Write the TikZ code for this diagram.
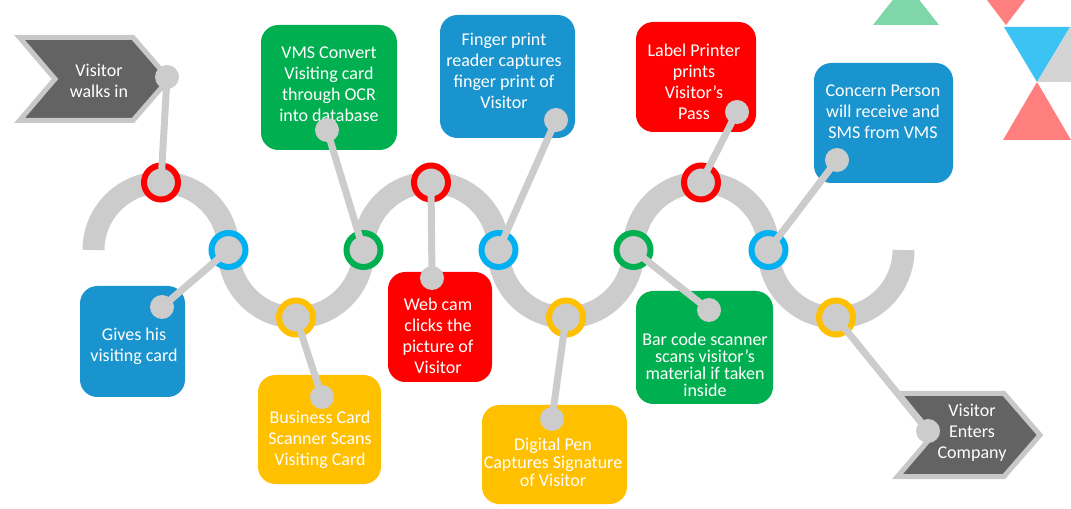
\documentclass[tikz,border=0pt]{standalone}
\usepackage{fontspec}
\setmainfont{Carlito}
\usepackage{tikz}
\usetikzlibrary{positioning}
\definecolor{mTrack}{HTML}{CCCCCC}
\definecolor{mRed}{HTML}{FF0000}
\definecolor{mBlue}{HTML}{00B0F0}
\definecolor{mBox}{HTML}{1A94CE}
\definecolor{mGreen}{HTML}{00B050}
\definecolor{mYellow}{HTML}{FFC000}
\definecolor{mDark}{HTML}{636363}
\definecolor{mEdge}{HTML}{C8C8C8}
\definecolor{mMint}{HTML}{7FD7A9}
\definecolor{mSalmon}{HTML}{FF7F7F}
\definecolor{mSky}{HTML}{3BC3F3}
\definecolor{mLight}{HTML}{D4D4D4}

\begin{document}
\begin{tikzpicture}[x=0.75pt, y=-0.75pt,
    ring/.style={circle, draw=#1, line width=4.5pt, fill=mTrack, minimum size=25.5pt, inner sep=0pt},
    pin/.style={circle, fill=mTrack, minimum size=18pt, inner sep=0pt},
    stem/.style={mTrack, line width=5.25pt},
    card/.style={fill=#1, rounded corners=13pt},
    chevron/.style={fill=mDark, draw=mEdge, line width=3.75pt, line join=miter},
    txt/.style={text=white, align=center, inner sep=0pt, font=\fontsize{13.5}{15.75}\selectfont}]
    \clip (0,0) rectangle (1071,509);
    % corner triangles
    \fill[mMint] (873,25) -- (939,25) -- (906,-17) -- cycle;
    \fill[mSalmon] (974,-17) -- (1038,-17) -- (1006,25) -- cycle;
    \fill[mSky] (1004,27) -- (1070,27) -- (1037,82) -- cycle;
    \fill[mLight] (1037,82) -- (1072,24) -- (1072,82) -- cycle;
    \fill[mSalmon] (1037,82) -- (1003,140) -- (1071,140) -- cycle;
    % wave
    \draw[mTrack, line width=16.5pt] (93.5,250) arc (180:360:67.5) arc (180:0:67.5)
      arc (180:360:67.5) arc (180:0:67.5) arc (180:360:67.5) arc (180:0:67.5);
    % cards
    \fill[card=mBox] (80,286) rectangle (185,397);
    \fill[card=mYellow] (258,375) rectangle (381,484);
    \fill[card=mGreen] (261,25) rectangle (397,150);
    \fill[card=mRed] (388,272) rectangle (492,382);
    \fill[card=mBox] (440,15) rectangle (575,138);
    \fill[card=mYellow] (482,405) rectangle (627,504);
    \fill[card=mGreen] (636,291) rectangle (773,404);
    \fill[card=mRed] (636,22) rectangle (756,132);
    \fill[card=mBox] (814,63) rectangle (953,183);
    \draw[chevron] (19.5,37.5) -- (133,37.5) -- (169,79) -- (133,120.5) -- (19.5,120.5) -- (55,79) -- cycle;
    \draw[chevron] (897.5,393.5) -- (1004,393.5) -- (1040,435) -- (1004,476.5) -- (897.5,476.5) -- (933,435) -- cycle;
    % texts
    \node[txt] (walkin) at (99,81) {Visitor\\walks in};
    \node[txt] (gives) at (134,346) {Gives his\\visiting card};
    \node[txt] (bcard) at (320,440) {Business Card\\Scanner Scans\\Visiting Card};
    \node[txt] (vms) at (329,84) {VMS Convert\\Visiting card\\through OCR\\into database};
    \node[txt] (webcam) at (438,336) {Web cam\\clicks the\\picture of\\Visitor};
    \node[txt] (finger) at (504,71) {Finger print\\reader captures\\finger print of\\Visitor};
    \node[txt, font=\fontsize{13.5}{13.5}\selectfont] (dpen) at (553,462) {Digital Pen\\Captures Signature\\of Visitor};
    \node[txt, font=\fontsize{13.5}{12.75}\selectfont] (barcode) at (705,365) {Bar code scanner\\scans visitor’s\\material if taken\\inside};
    \node[txt] (label) at (694,82) {Label Printer\\prints\\Visitor’s\\Pass};
    \node[txt] (concern) at (883,112) {Concern Person\\will receive and\\SMS from VMS};
    \node[txt] (enters) at (972,433) {Visitor\\Enters\\Company};
    % rings on the wave
    \node[ring=mRed] (r1) at (161,182.5) {};
    \node[ring=mBlue] (r2) at (228.5,250) {};
    \node[ring=mYellow] (r3) at (296,317.5) {};
    \node[ring=mGreen] (r4) at (363.5,250) {};
    \node[ring=mRed] (r5) at (431,182.5) {};
    \node[ring=mBlue] (r6) at (498.5,250) {};
    \node[ring=mYellow] (r7) at (566,317.5) {};
    \node[ring=mGreen] (r8) at (633.5,250) {};
    \node[ring=mRed] (r9) at (701,182.5) {};
    \node[ring=mBlue] (r10) at (768.5,250) {};
    \node[ring=mYellow] (r11) at (836,317.5) {};
    % pins
    \node[pin] (p1) at (167,77) {};
    \node[pin] (p2) at (162,307) {};
    \node[pin] (p3) at (322,397) {};
    \node[pin] (p4) at (327,130) {};
    \node[pin] (p5) at (432,278) {};
    \node[pin] (p6) at (556,120) {};
    \node[pin] (p7) at (552,419) {};
    \node[pin] (p8) at (709,310) {};
    \node[pin] (p9) at (737,112) {};
    \node[pin] (p10) at (837,160) {};
    \node[pin] (p11) at (928,431) {};
    \foreach \i in {1,...,11}
      \draw[stem] (r\i.center) -- (p\i.center);
  \end{tikzpicture}
\end{document}
